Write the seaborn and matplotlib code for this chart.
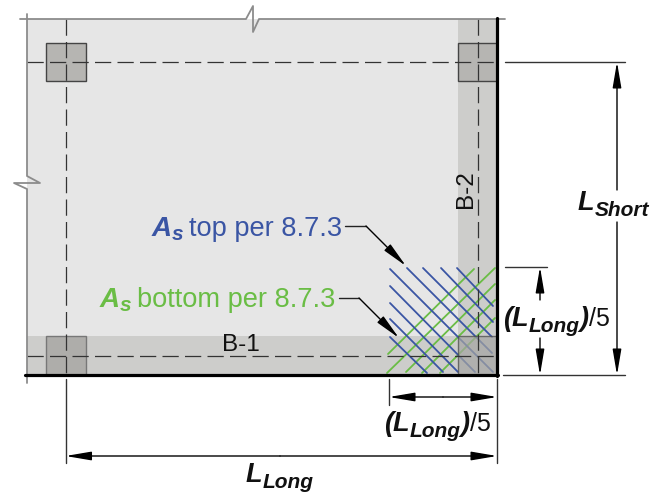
import pandas as pd
import matplotlib
matplotlib.use("Agg")
import matplotlib.pyplot as plt
from matplotlib.patches import Rectangle
import seaborn as sns

sns.set_theme(style="white")
plt.rcParams['font.family'] = ['Liberation Sans', 'DejaVu Sans']

# geometry, in image pixels
slab = [27, 19, 497, 375]
beam_b1 = [27, 336, 497, 375]
beam_b2 = [458, 19, 497, 375]
columns = [[46, 43, 86, 81], [458, 43, 497, 81]]
lower_columns = [[46, 336, 86, 375]]
corner_column = [458, 336, 497, 375]

blue_bars = [
    [390, 269, 493, 372], [407, 268, 492, 353], [423, 268, 492, 337],
    [441, 268, 493, 322], [457, 268, 493, 306], [390, 286, 475, 372],
    [390, 303, 458, 372], [390, 319, 443, 372], [390, 337, 427, 373],
]
green_bars = [
    [388, 354, 474, 269], [387, 373, 495, 268], [406, 372, 495, 284],
    [422, 373, 495, 300], [440, 373, 495, 318],
]

grid_lines = [[27, 62, 497, 62], [27, 356, 497, 356], [65.5, 19, 65.5, 375], [477.5, 19, 477.5, 375]]

top_edge = [[20, 19], [246, 19], [253, 6], [253, 32], [259, 19], [505, 19]]
left_edge = [[27, 14], [27, 176], [40, 183], [14, 183], [27, 189], [27, 383]]

ext_lines = [
    [505, 62, 625, 62], [503, 375, 625, 375], [505, 267, 547, 267],
    [389, 379, 389, 405], [497, 379, 497, 463], [65.5, 379, 65.5, 463],
]
dim_arrows = [
    [617, 190, 617, 62], [617, 222, 617, 375], [540, 300, 540, 267], [540, 338, 540, 375],
    [443, 397, 389, 397], [443, 397, 497, 397], [280, 456, 65.5, 456], [280, 456, 497, 456],
]
top_leader = [[345, 226], [366, 226], [406, 266]]
bottom_leader = [[339, 298], [359, 298], [399, 338]]

blue = '#3a55a4'
green = '#6abd45'
bold = dict(weight='bold', style='italic')

fig, ax = plt.subplots(figsize=(6.63, 4.96), dpi=100)
ax.set_position([0, 0, 1, 1])


def box(b, color, z, **kw):
    ax.add_patch(Rectangle((b[0], b[1]), b[2] - b[0], b[3] - b[1], facecolor=color, zorder=z, **kw))


def runs(x, y, parts):
    # text pieces set one after the other on a shared baseline
    r = fig.canvas.get_renderer()
    for s, size, dy, color, kw in parts:
        t = ax.text(x, y + dy, s, fontsize=size, color=color, va='baseline', ha='left', zorder=10, **kw)
        x = t.get_window_extent(r).x1 + (5 if s == 's' else 0)


box(slab, '#e6e6e6', 1, linewidth=0)
box(beam_b1, '#cdcdcb', 2, linewidth=0)
box(beam_b2, '#cdcdcb', 2, linewidth=0)
for c in columns:
    box(c, '#b6b5b2', 3, edgecolor='#444444', linewidth=1)
for c in lower_columns:
    box(c, '#aeadaa', 3, edgecolor='#777777', linewidth=1)

# reinforcing bars
rows = []
for name, bars in [('top', blue_bars), ('bottom', green_bars)]:
    for i, b in enumerate(bars):
        rows.append(dict(layer=name, bar=i, x=b[0], y=b[1]))
        rows.append(dict(layer=name, bar=i, x=b[2], y=b[3]))
bars_df = pd.DataFrame(rows)
sns.lineplot(data=bars_df[bars_df.layer == 'bottom'], x='x', y='y', units='bar', estimator=None, sort=False,
             color=green, linewidth=1.3, ax=ax, legend=False, zorder=4)
sns.lineplot(data=bars_df[bars_df.layer == 'top'], x='x', y='y', units='bar', estimator=None, sort=False,
             color=blue, linewidth=1.3, ax=ax, legend=False, zorder=5)
box(corner_column, '#a5a5a2', 6, alpha=0.7, edgecolor='#444444', linewidth=1)

ax.set_xlim(0, 663)
ax.set_ylim(496, 0)

for g in grid_lines:
    ax.plot([g[0], g[2]], [g[1], g[3]], color='#333333', lw=0.9, dashes=(13, 5), zorder=7)

ax.plot(*zip(*top_edge), color='#8c8c8c', lw=1.3, zorder=7)
ax.plot(*zip(*left_edge), color='#8c8c8c', lw=1.3, zorder=7)
ax.plot([497, 497], [18, 376], color='black', lw=2.3, zorder=8)
ax.plot([25, 498], [375, 375], color='black', lw=2.3, zorder=8)

for e in ext_lines:
    ax.plot([e[0], e[2]], [e[1], e[3]], color='#333333', lw=1, zorder=7)


def arrow(x0, y0, x1, y1):
    ax.annotate('', xy=(x1, y1), xytext=(x0, y0), zorder=9,
                arrowprops=dict(arrowstyle='-|>,head_length=1.3,head_width=0.22', color='black', lw=1,
                                shrinkA=0, shrinkB=0))


for d in dim_arrows:
    arrow(*d)
for leader in [top_leader, bottom_leader]:
    ax.plot(*zip(*leader[:2]), color='#222222', lw=1, zorder=9)
    arrow(*leader[1], *leader[2])

ax.text(241, 345, 'B-1', fontsize=17.5, color='#111111', ha='center', va='center', zorder=10)
ax.text(466, 189, 'B-2', fontsize=17.5, color='#111111', ha='center', va='center', rotation=90, zorder=10)

big = 19.5
sub = 15
label = 19.6
black = '#111111'
runs(152, 236, [('A', 20, 0, blue, bold), ('s', sub, 4, blue, bold), ('top per 8.7.3', label, 0, blue, {})])
runs(100, 307, [('A', 20, 0, green, bold), ('s', sub, 4, green, bold), ('bottom per 8.7.3', label, 0, green, {})])
runs(578, 210, [('L', big, 0, black, bold), ('Short', sub, 6, black, bold)])
runs(246, 482, [('L', big, 0, black, bold), ('Long', sub, 6, black, bold)])
for x, y in [(503, 326), (384, 431)]:
    runs(x, y, [('(L', big, 0, black, bold), ('Long', sub, 6, black, bold), (')', big, 0, black, bold),
                ('/5', 18, 0, black, {})])

ax.set_xlabel('')
ax.set_ylabel('')
ax.axis('off')
fig.savefig('out.png', dpi=100)
